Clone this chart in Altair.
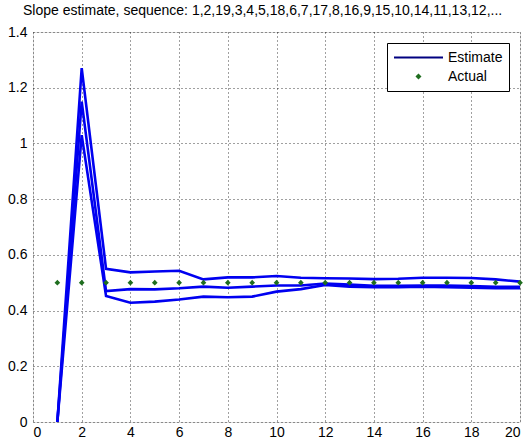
import altair as alt
import pandas as pd

x_vals = list(range(1, 21))
upper = [0.0, 1.27, 0.55, 0.537, 0.54, 0.543, 0.512, 0.519, 0.519, 0.524,
         0.518, 0.516, 0.515, 0.513, 0.514, 0.518, 0.518, 0.517, 0.512, 0.504]
middle = [0.0, 1.15, 0.47, 0.477, 0.476, 0.48, 0.486, 0.482, 0.486, 0.49,
          0.49, 0.497, 0.493, 0.489, 0.489, 0.49, 0.49, 0.488, 0.485, 0.485]
lower = [0.0, 1.03, 0.452, 0.428, 0.432, 0.44, 0.45, 0.448, 0.45, 0.468,
         0.477, 0.492, 0.486, 0.484, 0.484, 0.486, 0.484, 0.482, 0.48, 0.48]
actual = [0.5] * 20
series_names = ["Estimate", "Actual"]
title_text = "Slope estimate, sequence: 1,2,19,3,4,5,18,6,7,17,8,16,9,15,10,14,11,13,12,..."

rows = []
for name, vals in (("upper", upper), ("middle", middle), ("lower", lower)):
    for xi, v in zip(x_vals, vals):
        rows.append({"x": xi, "y": v, "curve": name, "series": "Estimate"})
lines_df = pd.DataFrame(rows)
pts_df = pd.DataFrame({"x": x_vals, "y": actual, "series": ["Actual"] * 20})

xs = alt.Scale(domain=[0, 20], nice=False, zero=False)
ys = alt.Scale(domain=[0, 1.4], nice=False)

common = dict(title=None, grid=True, ticks=False, domain=False,
              labelFont="Liberation Sans", labelFontSize=14, labelColor="#000",
              gridColor="#000", gridDash=[1, 3], gridOpacity=0.75, gridWidth=1)
xaxis = alt.Axis(values=list(range(0, 21, 2)), labelPadding=3, **common)
yaxis = alt.Axis(values=[0, 0.2, 0.4, 0.6, 0.8, 1.0, 1.2, 1.4], labelPadding=6,
                 labelExpr="datum.value == 0 ? '0' : format(datum.value, '.1~f')", **common)

lines = alt.Chart(lines_df).mark_line(strokeWidth=2.6, clip=True).encode(
    x=alt.X("x:Q", scale=xs, axis=xaxis),
    y=alt.Y("y:Q", scale=ys, axis=yaxis),
    detail="curve:N",
    color=alt.value("#0000f0"),
)

points = alt.Chart(pts_df).mark_point(filled=False, strokeWidth=1.6, fill="#1f6e1f",
                                      opacity=1, fillOpacity=1).encode(
    x=alt.X("x:Q", scale=xs),
    y=alt.Y("y:Q", scale=ys),
    color=alt.Color("series:N", scale=alt.Scale(domain=series_names, range=["#000080", "#1f6e1f"]),
                    legend=alt.Legend(title=None, orient="none", legendX=354, legendY=11,
                                      strokeColor="#000", fillColor="#fff", padding=6,
                                      labelFont="Liberation Sans", labelFontSize=14,
                                      labelColor="#000", clipHeight=17, rowPadding=2,
                                      symbolStrokeWidth=1.8, symbolOpacity=1, labelOffset=4)),
    shape=alt.Shape("series:N", scale=alt.Scale(domain=series_names, range=["stroke", "diamond"])),
    size=alt.Size("series:N", scale=alt.Scale(domain=series_names, range=[2400, 12])),
)

chart = alt.layer(lines, points).properties(
    width=487, height=390,
    title=alt.TitleParams(title_text, anchor="start", frame="group", dx=-10, offset=7,
                          font="Liberation Sans", fontSize=14, fontWeight="normal",
                          color="#000"),
    autosize=alt.AutoSizeParams(type="none"),
    padding={"left": 33, "top": 32, "right": 9, "bottom": 20},
).configure_view(stroke="#000", strokeWidth=1).configure(background="#fff")

chart.save("out.html", embed_options={"renderer": "svg", "actions": False})
